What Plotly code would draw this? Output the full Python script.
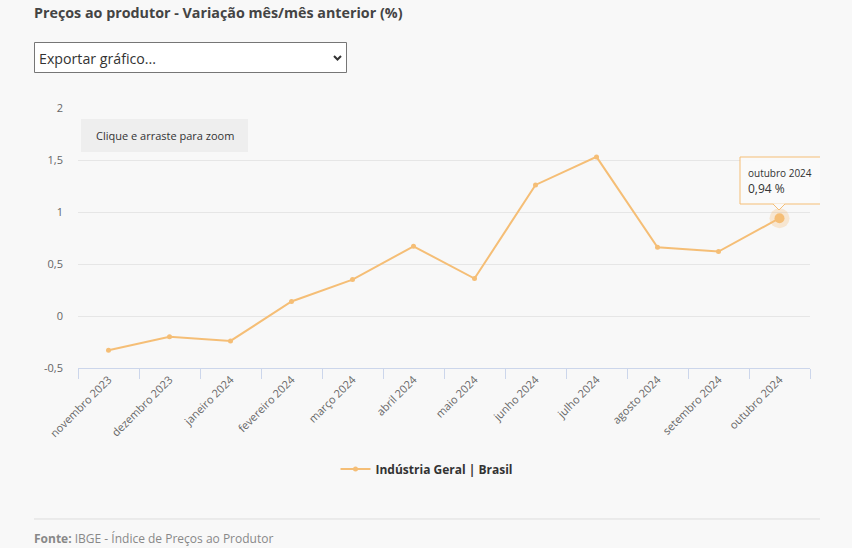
import plotly.graph_objects as go

# ---- data ----
categories = ["novembro 2023", "dezembro 2023", "janeiro 2024", "fevereiro 2024",
              "março 2024", "abril 2024", "maio 2024", "junho 2024", "julho 2024",
              "agosto 2024", "setembro 2024", "outubro 2024"]
values = [-0.33, -0.20, -0.24, 0.14, 0.35, 0.67, 0.36, 1.26, 1.53, 0.66, 0.62, 0.94]
y_tickvals = [-0.5, 0, 0.5, 1, 1.5, 2]
y_ticktext = ["-0,5", "0", "0,5", "1", "1,5", "2"]
series_name = "Indústria Geral | Brasil"
title_text = "Preços ao produtor - Variação mês/mês anterior (%)"
source_label = "Fonte:"
source_text = "IBGE - Índice de Preços ao Produtor"
tooltip_value_text = "0,94 %"

# ---- layout geometry (pixels) ----
W, H = 852, 548
L, R, T, B = 78, 810, 108, 368
PW, PH = R - L, B - T


def px(x):
    return (x - L) / PW


def py(y):
    return (B - y) / PH


LINE = "#f5be76"
BG = "#f8f8f8"
FONT = "Open Sans"

fig = go.Figure()
fig.add_trace(go.Scatter(
    x=categories, y=values, mode="lines+markers", name="<b>" + series_name + "</b>",
    line=dict(color=LINE, width=2), marker=dict(color=LINE, size=5),
    hoverinfo="skip",
))
# highlighted last point (halo + dot)
fig.add_trace(go.Scatter(
    x=[categories[-1]], y=[values[-1]], mode="markers", showlegend=False,
    marker=dict(color="rgba(245,190,118,0.3)", size=20, line=dict(width=0)),
    hoverinfo="skip",
))
fig.add_trace(go.Scatter(
    x=[categories[-1]], y=[values[-1]], mode="markers", showlegend=False,
    marker=dict(color=LINE, size=10, line=dict(color=LINE, width=0)),
    hoverinfo="skip",
))

shapes = []
annotations = []

# title
annotations.append(dict(
    xref="paper", yref="paper", x=px(32), y=py(13), xanchor="left", yanchor="middle",
    text="<b>" + title_text + "</b>", showarrow=False,
    font=dict(family=FONT, size=14.3, color="#444444"),
))
# export dropdown
shapes.append(dict(type="rect", xref="paper", yref="paper",
                   x0=px(34.5), x1=px(346.5), y0=py(42.5), y1=py(72.5),
                   fillcolor="#ffffff", line=dict(color="#767676", width=1)))
annotations.append(dict(
    xref="paper", yref="paper", x=px(37), y=py(58), xanchor="left", yanchor="middle",
    text="Exportar gráfico...", showarrow=False,
    font=dict(family=FONT, size=14.2, color="#333333"),
))
shapes.append(dict(type="path", xref="paper", yref="paper",
                   path=f"M {px(334)} {py(56)} L {px(337.5)} {py(59.5)} L {px(341)} {py(56)}",
                   line=dict(color="#333333", width=2)))

# zoom hint box
shapes.append(dict(type="rect", xref="paper", yref="paper",
                   x0=px(81), x1=px(248), y0=py(119), y1=py(152),
                   fillcolor="#eeeeee", line=dict(width=0), layer="below"))
annotations.append(dict(
    xref="paper", yref="paper", x=px(164.5), y=py(135.5), xanchor="center", yanchor="middle",
    text="Clique e arraste para zoom", showarrow=False,
    font=dict(family=FONT, size=11, color="#333333"),
))

# tooltip (clipped at the chart's right edge, as in the original)
shapes.append(dict(type="rect", xref="paper", yref="paper",
                   x0=px(740), x1=px(835), y0=py(157), y1=py(204),
                   fillcolor="rgba(250,250,250,0.95)", line=dict(color=LINE, width=1)))
shapes.append(dict(type="path", xref="paper", yref="paper",
                   path=f"M {px(773)} {py(203.5)} L {px(779)} {py(210)} L {px(785)} {py(203.5)} Z",
                   fillcolor="rgba(250,250,250,0.95)", line=dict(width=0)))
shapes.append(dict(type="path", xref="paper", yref="paper",
                   path=f"M {px(773)} {py(204)} L {px(779)} {py(210)} L {px(785)} {py(204)}",
                   line=dict(color=LINE, width=1)))
shapes.append(dict(type="rect", xref="paper", yref="paper",
                   x0=px(820), x1=px(852), y0=py(150), y1=py(212),
                   fillcolor=BG, line=dict(width=0)))
annotations.append(dict(
    xref="paper", yref="paper", x=px(746), y=py(173), xanchor="left", yanchor="middle",
    text=categories[-1], showarrow=False,
    font=dict(family=FONT, size=10, color="#333333"),
))
annotations.append(dict(
    xref="paper", yref="paper", x=px(746), y=py(188), xanchor="left", yanchor="middle",
    text=tooltip_value_text, showarrow=False,
    font=dict(family=FONT, size=12, color="#333333"),
))

# footer
shapes.append(dict(type="line", xref="paper", yref="paper",
                   x0=px(34), x1=px(820), y0=py(519), y1=py(519),
                   line=dict(color="#dddddd", width=1)))
annotations.append(dict(
    xref="paper", yref="paper", x=px(32), y=py(538), xanchor="left", yanchor="middle",
    text="<b>" + source_label + "</b> " + source_text, showarrow=False,
    font=dict(family=FONT, size=12, color="#888888"),
))

fig.update_layout(
    template="none",
    width=W, height=H, autosize=False,
    margin=dict(l=L, r=W - R, t=T, b=H - B, pad=0, autoexpand=False),
    paper_bgcolor=BG, plot_bgcolor=BG,
    font=dict(family=FONT, size=11, color="#666666"),
    separators=",.",
    showlegend=True,
    legend=dict(orientation="h", xref="container", x=427 / W, xanchor="center",
                yref="paper", y=py(469), yanchor="middle",
                font=dict(family=FONT, size=12, color="#333333"),
                bgcolor="rgba(0,0,0,0)"),
    shapes=shapes,
    annotations=annotations,
    hovermode=False,
    xaxis=dict(
        type="category", range=[-0.5, len(categories) - 0.5], automargin=False,
        showgrid=False, zeroline=False,
        showline=True, linecolor="#ccd6eb", linewidth=1,
        ticks="outside", tickson="boundaries", ticklen=10, tickcolor="#ccd6eb",
        tickangle=-45, tickfont=dict(family=FONT, size=11, color="#666666"),
    ),
    yaxis=dict(
        range=[-0.5, 2], tickvals=y_tickvals, ticktext=y_ticktext, automargin=False,
        showgrid=True, gridcolor="#e6e6e6", gridwidth=1,
        zeroline=False, showline=False, ticks="",
        ticklabelstandoff=14,
        tickfont=dict(family=FONT, size=11, color="#666666"),
    ),
)

fig.write_html("out.html")
